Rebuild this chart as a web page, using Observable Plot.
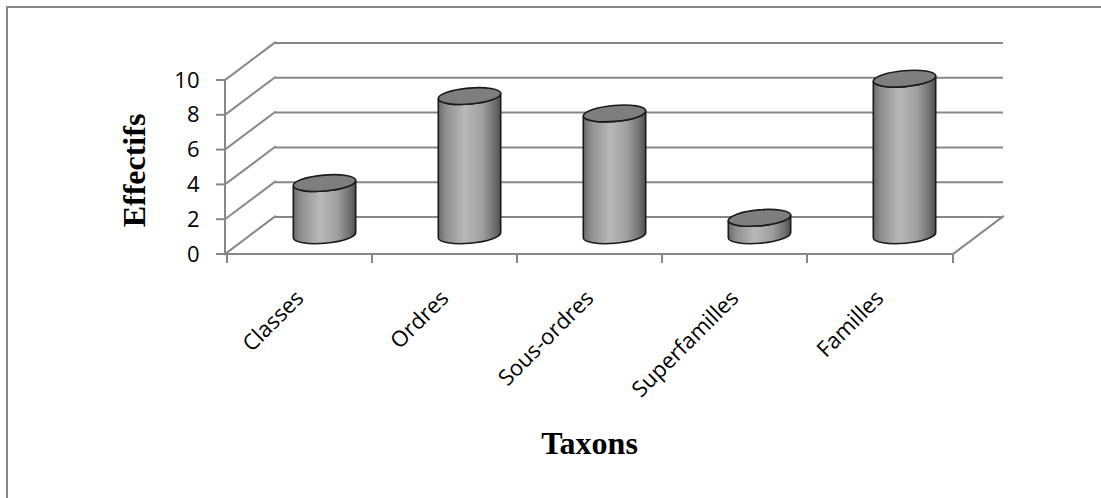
<!DOCTYPE html>
<html>
<head>
<meta charset="utf-8">
<script src="https://cdn.jsdelivr.net/npm/d3@7"></script>
<script src="https://cdn.jsdelivr.net/npm/@observablehq/plot@0.6"></script>
<style>
  html, body { margin: 0; background: #fff; }
  #chart { position: relative; width: 1101px; height: 498px; overflow: hidden; background: #fff; }
  #chart svg { position: absolute; left: 0; top: 0; }
  #chart .area { position: absolute; left: 6px; top: 6px; width: 1200px; height: 600px;
                 border: 2px solid #878787; box-sizing: border-box; pointer-events: none; }
</style>
</head>
<body>
<div id="chart"></div>
<script>
// Effectifs par niveau taxonomique
const categories = ["Classes", "Ordres", "Sous-ordres", "Superfamilles", "Familles"];
const counts = [3, 8, 7, 1, 9];
const yTicks = [0, 2, 4, 6, 8, 10];
const yLabel = "Effectifs";
const xLabel = "Taxons";

const rows = categories.map((taxon, i) => ({taxon, n: counts[i]}));

// pseudo-3D box: depth offset of the back wall, in pixels
const DEPTH_X = 50, DEPTH_Y = -37.5;
const GRID = "#878787";
const SANS = "'Open Sans', sans-serif";
const SERIF = "'Liberation Serif', 'Times New Roman', serif";

// function marks receive the scales among their arguments
const scalesOf = (args) => args.find(a => a && typeof a.x === "function" && typeof a.y === "function");

// left wall, floor, front axis lines and ticks
const box = (...args) => {
  const {x, y} = scalesOf(args);
  const [x0, x1] = x.range();
  const y0 = y(0);
  const g = d3.create("svg:g")
    .attr("fill", "none").attr("stroke", GRID).attr("stroke-width", 2)
    .attr("stroke-linecap", "square");
  const line = (ax, ay, bx, by) => g.append("line")
    .attr("x1", ax).attr("y1", ay).attr("x2", bx).attr("y2", by);
  for (const v of yTicks) {
    line(x0, y(v), x0 + DEPTH_X, y(v) + DEPTH_Y);   // side wall
    line(x0 - 8, y(v), x0, y(v));                   // y tick
  }
  line(x0, y0, x0, y(d3.max(yTicks)));              // front vertical axis
  line(x0, y0, x1, y0);                             // front edge of floor
  line(x1, y0, x1 + DEPTH_X, y0 + DEPTH_Y);         // right edge of floor
  const bounds = x.domain().map(c => x(c)).concat([x1]);
  for (const bx of bounds) line(bx, y0, bx, y0 + 8); // category separators
  return g.node();
};

// cylinders standing in the middle of the box depth
const cylinders = (...args) => {
  const {x, y} = scalesOf(args);
  const bw = x.bandwidth();
  const rx = bw * 0.216, ry = 8, tilt = -5;
  const t = tilt * Math.PI / 180;
  const ex = rx * Math.cos(t), ey = rx * Math.sin(t);
  const g = d3.create("svg:g");
  const grad = g.append("defs").append("linearGradient")
    .attr("id", "cyl-body").attr("x1", 0).attr("x2", 1).attr("y1", 0).attr("y2", 0);
  [[0, "#6a6a6a"], [0.12, "#8e8e8e"], [0.42, "#b8b8b8"], [0.7, "#a0a0a0"], [0.9, "#707070"], [1, "#4e4e4e"]]
    .forEach(([o, c]) => grad.append("stop").attr("offset", o).attr("stop-color", c));
  for (const d of rows) {
    const cx = x(d.taxon) + bw / 2 + DEPTH_X / 2;
    const yt = y(d.n) + DEPTH_Y / 2;
    const yb = y(0) + DEPTH_Y / 2;
    g.append("path")
      .attr("d", `M${cx - ex},${yt - ey} L${cx - ex},${yb - ey} A${rx},${ry} ${tilt} 0 0 ${cx + ex},${yb + ey} ` +
                 `L${cx + ex},${yt + ey} A${rx},${ry} ${tilt} 0 1 ${cx - ex},${yt - ey} Z`)
      .attr("fill", "url(#cyl-body)")
      .attr("stroke", "#1a1a1a").attr("stroke-width", 1.6).attr("stroke-linejoin", "round");
    g.append("ellipse")
      .attr("cx", cx).attr("cy", yt).attr("rx", rx).attr("ry", ry)
      .attr("transform", `rotate(${tilt},${cx},${yt})`)
      .attr("fill", "#7e7e7e")
      .attr("stroke", "#1a1a1a").attr("stroke-width", 1.6);
  }
  return g.node();
};

const chart = Plot.plot({
  width: 1101,
  height: 498,
  marginLeft: 225,
  marginRight: 148,
  marginTop: 80,
  marginBottom: 244,
  style: {fontFamily: SANS, fontSize: "22px", color: "#000", background: "transparent", overflow: "visible"},
  x: {type: "band", domain: categories, padding: 0, axis: null},
  y: {domain: [0, 10], axis: null},
  marks: [
    // back wall gridlines
    Plot.ruleY(yTicks, {dx: DEPTH_X, dy: DEPTH_Y, stroke: GRID, strokeWidth: 2}),
    box,
    cylinders,
    // y tick labels
    Plot.text(yTicks, {y: d => d, text: d => String(d), frameAnchor: "left", dx: -26,
                       textAnchor: "end", lineAnchor: "middle", fill: "#000",
                       fontFamily: SANS, fontSize: 22}),
    // category labels
    Plot.text(categories, {x: d => d, text: d => d, frameAnchor: "bottom", dy: 40, dx: 0,
                           rotate: -45, textAnchor: "end", lineAnchor: "middle", fill: "#000",
                           fontFamily: SANS, fontSize: 22}),
    // axis titles
    Plot.text([xLabel], {text: d => d, frameAnchor: "bottom", dy: 199, lineAnchor: "bottom",
                         textAnchor: "middle", fontFamily: SERIF,
                         fontWeight: "bold", fontSize: 32, fill: "#000"}),
    Plot.text([yLabel], {text: d => d, frameAnchor: "left", dx: -81, dy: 3, rotate: -90,
                         lineAnchor: "bottom", textAnchor: "middle", fontFamily: SERIF,
                         fontWeight: "bold", fontSize: 32, fill: "#000"})
  ]
});

const root = document.getElementById("chart");
root.append(chart);
const area = document.createElement("div");
area.className = "area";
root.append(area);
</script>
</body>
</html>
